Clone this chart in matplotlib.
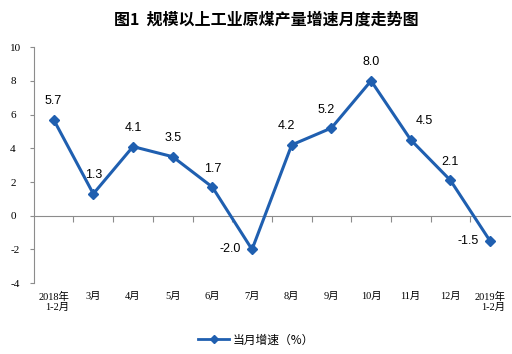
import matplotlib
matplotlib.use('Agg')
import matplotlib.pyplot as plt
from matplotlib.lines import Line2D

months = ['2018年\n1-2月', '3月', '4月', '5月', '6月', '7月', '8月', '9月',
          '10月', '11月', '12月', '2019年\n1-2月']
growth = [5.7, 1.3, 4.1, 3.5, 1.7, -2.0, 4.2, 5.2, 8.0, 4.5, 2.1, -1.5]
y_ticks = [-4, -2, 0, 2, 4, 6, 8, 10]
title = '图1  规模以上工业原煤产量增速月度走势图'
legend_label = '当月增速（%）'

blue = '#1f5fb0'
gray = '#8c8c8c'
serif = ['Liberation Serif', 'Noto Sans CJK SC']
cjk = ['Noto Sans CJK SC', 'DejaVu Sans']

fig = plt.figure(figsize=(5.12, 3.54), dpi=100)
ax = fig.add_axes([0.066, 0.2, 0.93, 0.667])

x = list(range(len(months)))
ax.plot(x, growth, color=blue, lw=2.2, marker='D', ms=5, zorder=3)

ax.set_xlim(-0.5, len(months) - 0.5)
ax.set_ylim(-4, 10)

for s in ['top', 'right', 'bottom']:
    ax.spines[s].set_visible(False)
ax.spines['left'].set_color(gray)
ax.set_yticks(y_ticks)
ax.set_yticklabels([str(v) for v in y_ticks], family=serif, fontsize=8)
ax.tick_params(axis='y', length=3, color=gray, pad=14)
for lab in ax.get_yticklabels():
    lab.set_horizontalalignment('left')

ax.set_xticks(x)
ax.set_xticklabels(months, family=serif, fontsize=7.5)
ax.tick_params(axis='x', length=0, pad=6)
for lab in ax.get_xticklabels():
    lab.set_multialignment('right')

# zero line with category boundary ticks
sec = ax.secondary_xaxis(4 / 14)
sec.spines['bottom'].set_color(gray)
sec.set_xticks([i + 0.5 for i in x[:-1]])
sec.set_xticklabels([])
sec.tick_params(length=4, color=gray)

offsets = {5: (-16, 0), 11: (-16, 0), 6: (-4, 9), 7: (-4, 9), 9: (10, 9)}
for i, v in enumerate(growth):
    dx, dy = offsets.get(i, (0, 9))
    ha = 'right' if dx < -10 else 'center'
    va = 'center' if dy == 0 else 'bottom'
    ax.annotate(f'{v:.1f}', (i, v), xytext=(dx if ha == 'center' else -8, dy),
                textcoords='offset points', ha=ha, va=va,
                family='Liberation Sans', fontsize=9)

fig.text(0.52, 0.945, title, ha='center', va='center', family=cjk,
         fontsize=11.5, fontweight='bold')

handle = Line2D([], [], color=blue, lw=2, marker='D', ms=4)
fig.legend([handle], [legend_label], loc='center', bbox_to_anchor=(0.5, 0.04),
           frameon=False, prop={'family': cjk, 'size': 8.5}, handlelength=2.6,
           handletextpad=0.3)

fig.savefig('out.png', dpi=100)
